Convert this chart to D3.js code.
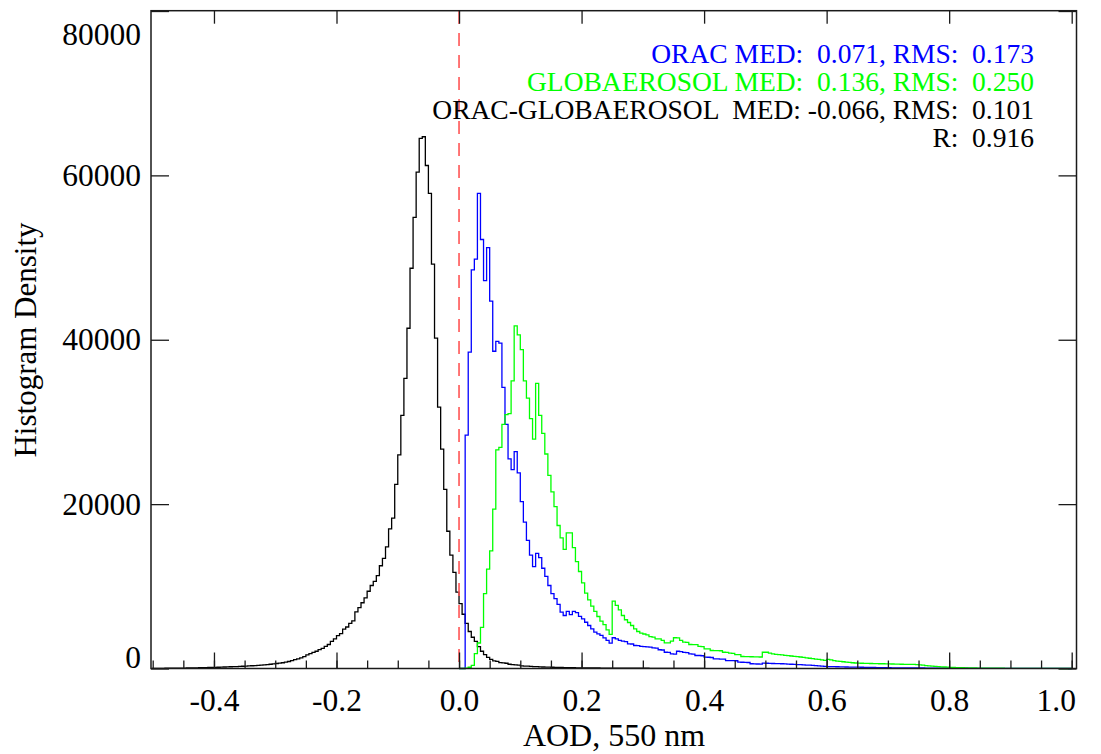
<!DOCTYPE html>
<html>
<head>
<meta charset="utf-8">
<script src="https://cdn.jsdelivr.net/npm/d3@7"></script>
<style>
  html, body { margin: 0; padding: 0; background: #fff; }
  svg { display: block; }
  text { font-family: "Liberation Serif", "Times New Roman", serif; }
</style>
</head>
<body>
<svg id="chart" width="1101" height="754"></svg>
<script>
// ---------------- data ----------------
const binWidth = 0.005;
const blackStart = -0.5;
const blueStart = 0.0;
const greenStart = 0.0;

const blackValues = [
  20,20,25,25,30,30,35,40,45,50,
  55,60,70,75,85,90,100,110,120,130,
  145,155,170,180,195,210,225,240,255,275,
  290,310,335,360,390,420,450,480,520,560,
  610,650,700,770,850,960,1080,1180,1300,1450,
  1650,1800,1950,2100,2300,2450,2700,2920,3300,3600,
  4000,4250,4800,5050,5500,5800,6900,7400,8000,8600,
  9400,10100,10600,11300,12500,13400,14800,17000,18300,22400,
  26000,30800,35300,41400,48700,54900,60400,64500,64700,61200,
  57800,49200,40200,31800,26700,21800,16700,13800,11700,9300,
  7900,6600,5480,4500,3800,3300,2650,2100,1700,1350,
  1100,920,860,720,680,640,520,480,450,400,
  320,300,280,260,240,220,200,180,170,160,
  150,140,130,120,110,100,95,90,85,80,
  75,70,68,65,62,60,57,55,52,50,
  48,46,44,42,40,38,36,34,32,30,
  29,28,26,25,24,22,21,20,19,18,
  17,16,15,14,13,12,10,8,6,5
];

const blueValues = [
  0,0,28400,38500,48500,49800,57800,52200,47200,51200,
  44700,38600,39800,39600,34200,29700,25500,24200,26400,23800,
  20300,17800,15600,13800,12400,14000,13500,12200,11200,10100,
  9100,8500,7800,6850,6450,6950,6550,6950,6800,6350,
  6050,5630,5230,4830,4420,4220,4020,3730,3410,3080,
  3740,3610,3410,3320,3280,3000,2980,2800,2780,2680,
  2650,2640,2600,2520,2480,2280,2250,1980,1950,1790,
  1760,2100,2060,1950,1920,1790,1760,1580,1580,1550,
  1380,1370,1340,1180,1170,1150,1130,970,960,950,
  940,770,760,750,730,580,570,550,540,650,
  640,630,610,600,590,580,560,540,520,500,
  480,460,440,420,400,370,340,310,290,260,
  240,230,220,210,200,190,180,175,170,165,
  160,150,140,130,125,120,115,110,100,95,
  90,85,80,78,75,72,70,68,65,62,
  60,58,55,52,50,48,45,42,40,38,
  35,33,32,30,29,28,27,26,25,24,
  23,22,21,20,19,18,17,16,15,14,
  13,12,12,11,11,10,10,9,9,8,
  8,7,7,6,6,5,5,4,4,3
];

const greenValues = [
  0,0,50,150,370,1800,3100,5000,9100,12100,
  14300,19400,26600,26900,29700,30900,31000,35000,41700,40600,
  38800,35000,32900,30400,27900,34700,30800,28600,26100,23500,
  21500,19700,17400,15900,14500,16500,16500,14700,13000,11800,
  10430,9160,8360,7580,6940,6330,5760,5350,4710,4140,
  8190,7670,7140,6450,5930,5600,5230,4830,4500,4300,
  4200,4100,3890,3810,3610,3600,3410,3130,3120,3320,
  3740,3730,3410,3200,3190,2920,2910,2900,2680,2670,
  2400,2390,2190,2180,2170,2160,1980,1970,1860,1850,
  1700,1690,1460,1450,1440,1430,1420,1410,1400,1980,
  1980,1860,1790,1720,1680,1650,1600,1560,1520,1480,
  1450,1400,1350,1300,1250,1200,1150,1100,1050,1000,
  1100,1050,950,900,860,820,780,740,700,670,
  650,640,630,620,610,600,590,580,575,570,
  560,550,540,530,520,510,500,495,490,470,
  440,400,360,320,280,250,230,200,180,160,
  140,120,110,100,90,85,80,70,60,55,
  50,45,40,38,35,32,30,28,26,24,
  22,20,18,16,14,12,11,10,9,8,
  7,6,5,5,4,4,3,3,2,2
];

const xDomain = [-0.5, 1.0];
const yDomain = [0, 80000];
const xMajorTicks = [-0.4, -0.2, 0.0, 0.2, 0.4, 0.6, 0.8, 1.0];
const xTickLabels = ["-0.4", "-0.2", "0.0", "0.2", "0.4", "0.6", "0.8", "1.0"];
const xMinorTicks = d3.range(-10, 21).map(i => i * 0.05);
const yTicks = [0, 20000, 40000, 60000, 80000];
const yTickLabels = ["0", "20000", "40000", "60000", "80000"];
const refLineX = 0.0;

const statLines = [
  { text: "ORAC MED:  0.071, RMS:  0.173", color: "#0000ff" },
  { text: "GLOBAEROSOL MED:  0.136, RMS:  0.250", color: "#00ff00" },
  { text: "ORAC-GLOBAEROSOL  MED: -0.066, RMS:  0.101", color: "#000000" },
  { text: "R:  0.916", color: "#000000" }
];
const xTitle = "AOD, 550 nm";
const yTitle = "Histogram Density";

// ---------------- drawing ----------------
const svg = d3.select("#chart");
const frame = { left: 151, right: 1076.5, top: 10.7, bottom: 668.5 };

const x = d3.scaleLinear().domain(xDomain).range([152.7, 1071.7]);
const y = d3.scaleLinear().domain(yDomain).range([668.5, 11]);

const axisColor = "#1a1a1a";

function toSteps(values, start) {
  const pts = [[start, 0]];
  values.forEach((v, i) => pts.push([start + i * binWidth, v]));
  pts.push([start + values.length * binWidth, values[values.length - 1]]);
  return pts;
}

const line = d3.line()
  .x(d => x(d[0]))
  .y(d => y(d[1]))
  .curve(d3.curveStepAfter);

const plot = svg.append("g");

plot.append("path")
  .datum(toSteps(blackValues, blackStart))
  .attr("d", line).attr("fill", "none")
  .attr("stroke", "#000").attr("stroke-width", 1.3);

plot.append("path")
  .datum(toSteps(blueValues, blueStart))
  .attr("d", line).attr("fill", "none")
  .attr("stroke", "#0000ff").attr("stroke-width", 1.3);

plot.append("path")
  .datum(toSteps(greenValues, greenStart))
  .attr("d", line).attr("fill", "none")
  .attr("stroke", "#00ff00").attr("stroke-width", 1.3);

// red dashed reference line
plot.append("line")
  .attr("x1", x(refLineX)).attr("x2", x(refLineX))
  .attr("y1", y(yDomain[1])).attr("y2", y(0))
  .attr("stroke", "#ff5555").attr("stroke-width", 1.6)
  .attr("stroke-dasharray", "13,9");

// axes
const fontTick = 31.5;

const xAxisMajor = d3.axisBottom(x).tickValues(xMajorTicks)
  .tickSizeInner(-16).tickSizeOuter(0).tickPadding(20)
  .tickFormat((d, i) => xTickLabels[i]);
const gxb = svg.append("g").attr("transform", `translate(0,${frame.bottom})`).call(xAxisMajor);

const xAxisMinor = d3.axisBottom(x).tickValues(xMinorTicks)
  .tickSizeInner(-8).tickSizeOuter(0).tickFormat("");
const gxm = svg.append("g").attr("transform", `translate(0,${frame.bottom})`).call(xAxisMinor);

const xAxisTop = d3.axisTop(x).tickValues(xMajorTicks)
  .tickSizeInner(-13).tickSizeOuter(0).tickFormat("");
const gxt = svg.append("g").attr("transform", `translate(0,${frame.top})`).call(xAxisTop);

const yAxisLeft = d3.axisLeft(y).tickValues(yTicks)
  .tickSizeInner(-18).tickSizeOuter(0).tickPadding(10)
  .tickFormat((d, i) => yTickLabels[i]);
const gyl = svg.append("g").attr("transform", `translate(${frame.left},0)`).call(yAxisLeft);

const yAxisRight = d3.axisRight(y).tickValues(yTicks)
  .tickSizeInner(-18).tickSizeOuter(0).tickFormat("");
const gyr = svg.append("g").attr("transform", `translate(${frame.right},0)`).call(yAxisRight);

[gxb, gxm, gxt, gyl, gyr].forEach(g => {
  g.select(".domain").remove();
  g.selectAll(".tick line").attr("stroke", axisColor).attr("stroke-width", 1.3);
  g.selectAll(".tick text")
    .attr("fill", "#000")
    .style("font-family", '"Liberation Serif", serif')
    .style("font-size", fontTick + "px");
});

// IDL-style label nudges at the ends
gxb.selectAll(".tick text").filter(d => d === 1.0).attr("dx", "-16");
gyl.selectAll(".tick text").filter(d => d === 80000).attr("dy", "1.05em");
gyl.selectAll(".tick text").filter(d => d === 0).attr("dy", "-0.02em");

// frame
svg.append("rect")
  .attr("x", frame.left).attr("y", frame.top)
  .attr("width", frame.right - frame.left).attr("height", frame.bottom - frame.top)
  .attr("fill", "none").attr("stroke", axisColor).attr("stroke-width", 1.5);

// titles
svg.append("text")
  .attr("x", 614).attr("y", 746)
  .attr("text-anchor", "middle")
  .style("font-size", "32px")
  .text(xTitle);

svg.append("text")
  .attr("transform", "translate(36,340) rotate(-90)")
  .attr("text-anchor", "middle")
  .style("font-size", "31px")
  .text(yTitle);

// statistics text
const statY = [63, 91, 119, 147];
svg.append("g").selectAll("text")
  .data(statLines)
  .join("text")
  .attr("x", 1034)
  .attr("y", (d, i) => statY[i])
  .attr("text-anchor", "end")
  .attr("fill", d => d.color)
  .style("font-size", "27.5px")
  .style("white-space", "pre")
  .text(d => d.text);
</script>
</body>
</html>
